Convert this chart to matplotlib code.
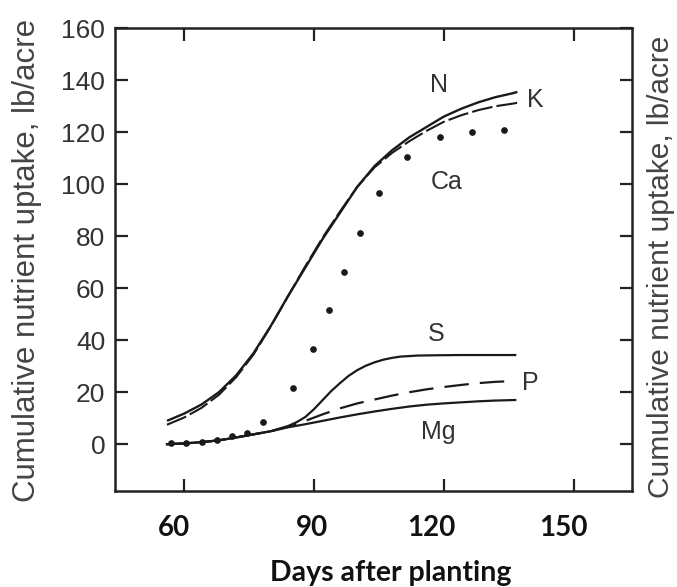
import matplotlib
matplotlib.use("Agg")
import matplotlib.pyplot as plt
from matplotlib.transforms import ScaledTranslation

# ---- data ----
n_days = [56, 60, 64, 68, 72, 76, 80, 84, 88, 92, 96, 100, 104, 108, 112, 116, 120, 124, 128, 132, 136, 137]
n_vals = [9, 11.8, 15.3, 20, 26.5, 35, 45.5, 57, 68, 79, 89, 99, 107, 113, 118, 122, 126, 129, 131.5, 133.5, 135, 135.5]
k_days = [56, 60, 64, 68, 72, 76, 80, 84, 88, 92, 96, 100, 104, 108, 112, 116, 120, 124, 128, 132, 136, 137]
k_vals = [7.5, 10.3, 14, 19, 25.8, 34.5, 45.3, 57, 68.5, 79.5, 89.5, 99, 106.5, 112, 116.5, 120.5, 124, 126.5, 128.5, 130, 131, 131.3]
ca_days = [57, 60.5, 64, 67.5, 71, 74.5, 78.1, 85.1, 89.8, 93.5, 97.0, 100.6, 105.0, 111.4, 119.2, 126.6, 134.0]
ca_vals = [0.3, 0.5, 1, 1.8, 3, 4.5, 8.6, 21.8, 36.5, 51.5, 66.3, 81.2, 96.5, 110.5, 118, 120.1, 120.8]
s_days = [56, 60, 64, 68, 72, 76, 80, 84, 86, 88, 90, 92, 94, 96, 98, 100, 102, 104, 106, 108, 110, 114, 118, 124, 130, 136.5]
s_vals = [0, 0.3, 0.8, 1.5, 2.6, 3.8, 5, 7, 8.5, 10.5, 13.5, 17, 20.5, 23.5, 26.3, 28.5, 30.2, 31.5, 32.5, 33.2, 33.7, 34.1, 34.2, 34.3, 34.3, 34.3]
p_days = [56, 60, 64, 68, 72, 76, 80, 84, 88, 92, 96, 100, 104, 108, 112, 116, 120, 124, 128, 132, 136.5]
p_vals = [0, 0.3, 0.8, 1.5, 2.6, 3.8, 5, 6.8, 9, 11.5, 13.8, 15.7, 17.2, 18.7, 20, 21.1, 22, 22.8, 23.5, 24, 24.3]
mg_days = [56, 60, 64, 68, 72, 76, 80, 84, 88, 92, 96, 100, 104, 108, 112, 116, 120, 124, 128, 132, 136.5]
mg_vals = [0, 0.3, 0.8, 1.5, 2.6, 3.8, 5, 6.5, 7.7, 9, 10.3, 11.5, 12.6, 13.6, 14.5, 15.2, 15.7, 16.1, 16.5, 16.8, 17]

x_ticks = [60, 90, 120, 150]
y_ticks = [0, 20, 40, 60, 80, 100, 120, 140, 160]
ylabel = "Cumulative nutrient uptake, lb/acre"
xlabel = "Days after planting"

curve_labels = ["N", "K", "Ca", "S", "P", "Mg"]
label_pos_x = [119.0, 141.2, 120.6, 118.3, 140.1, 118.8]
label_pos_y = [138, 132.3, 100.8, 42.3, 23.5, 4.6]

# ---- figure ----
fig = plt.figure(figsize=(6.77, 5.87), dpi=100)
ax = fig.add_axes([0.170, 0.1635, 0.7635, 0.7885])

lc = "#1a1a1a"
ax.plot(n_days, n_vals, color=lc, lw=1.7, solid_capstyle="butt")
ax.plot(k_days, k_vals, color=lc, lw=1.5, dashes=(10, 2))
ax.plot(ca_days, ca_vals, linestyle="none", marker="o", ms=3.8, color=lc)
ax.plot(s_days, s_vals, color=lc, lw=1.6)
ax.plot(p_days, p_vals, color=lc, lw=1.6, dashes=(11, 5))
ax.plot(mg_days, mg_vals, color=lc, lw=1.6)

for t, x, y in zip(curve_labels, label_pos_x, label_pos_y):
    ax.text(x, y, t, fontsize=18, color="#333333", ha="center", va="center",
            family="Liberation Sans")

ax.set_xlim(44, 163.5)
ax.set_ylim(-18, 160)
ax.set_xticks(x_ticks)
ax.set_yticks(y_ticks)

for s in ax.spines.values():
    s.set_linewidth(1.8)
    s.set_color("#222222")

ax.tick_params(direction="in", length=9, width=1.6, color="#222222",
               top=True, right=True)
ax.tick_params(axis="y", labelsize=19, labelcolor="#333333", pad=7)
ax.tick_params(axis="x", labelsize=20, labelcolor="#111111", pad=17)
for lab in ax.get_yticklabels():
    lab.set_family("Liberation Sans")
x_shift_px = [-10, -2, -12, -10]
for lab, dx in zip(ax.get_xticklabels(), x_shift_px):
    lab.set_family("Lato")
    lab.set_fontweight("bold")
    lab.set_transform(lab.get_transform() + ScaledTranslation(dx / 100, 0, fig.dpi_scale_trans))

fig.text(0.040, 0.557, ylabel, rotation=90, ha="center", va="center",
         fontsize=22.5, color="#444444", family="Liberation Sans")
fig.text(0.976, 0.545, ylabel, rotation=90, ha="center", va="center",
         fontsize=21.5, color="#444444", family="Liberation Sans")
fig.text(0.577, 0.011, xlabel, ha="center", va="baseline", fontsize=20.5,
         color="#111111", family="Lato", fontweight="bold")

fig.savefig("out.png", dpi=100, facecolor="white")
